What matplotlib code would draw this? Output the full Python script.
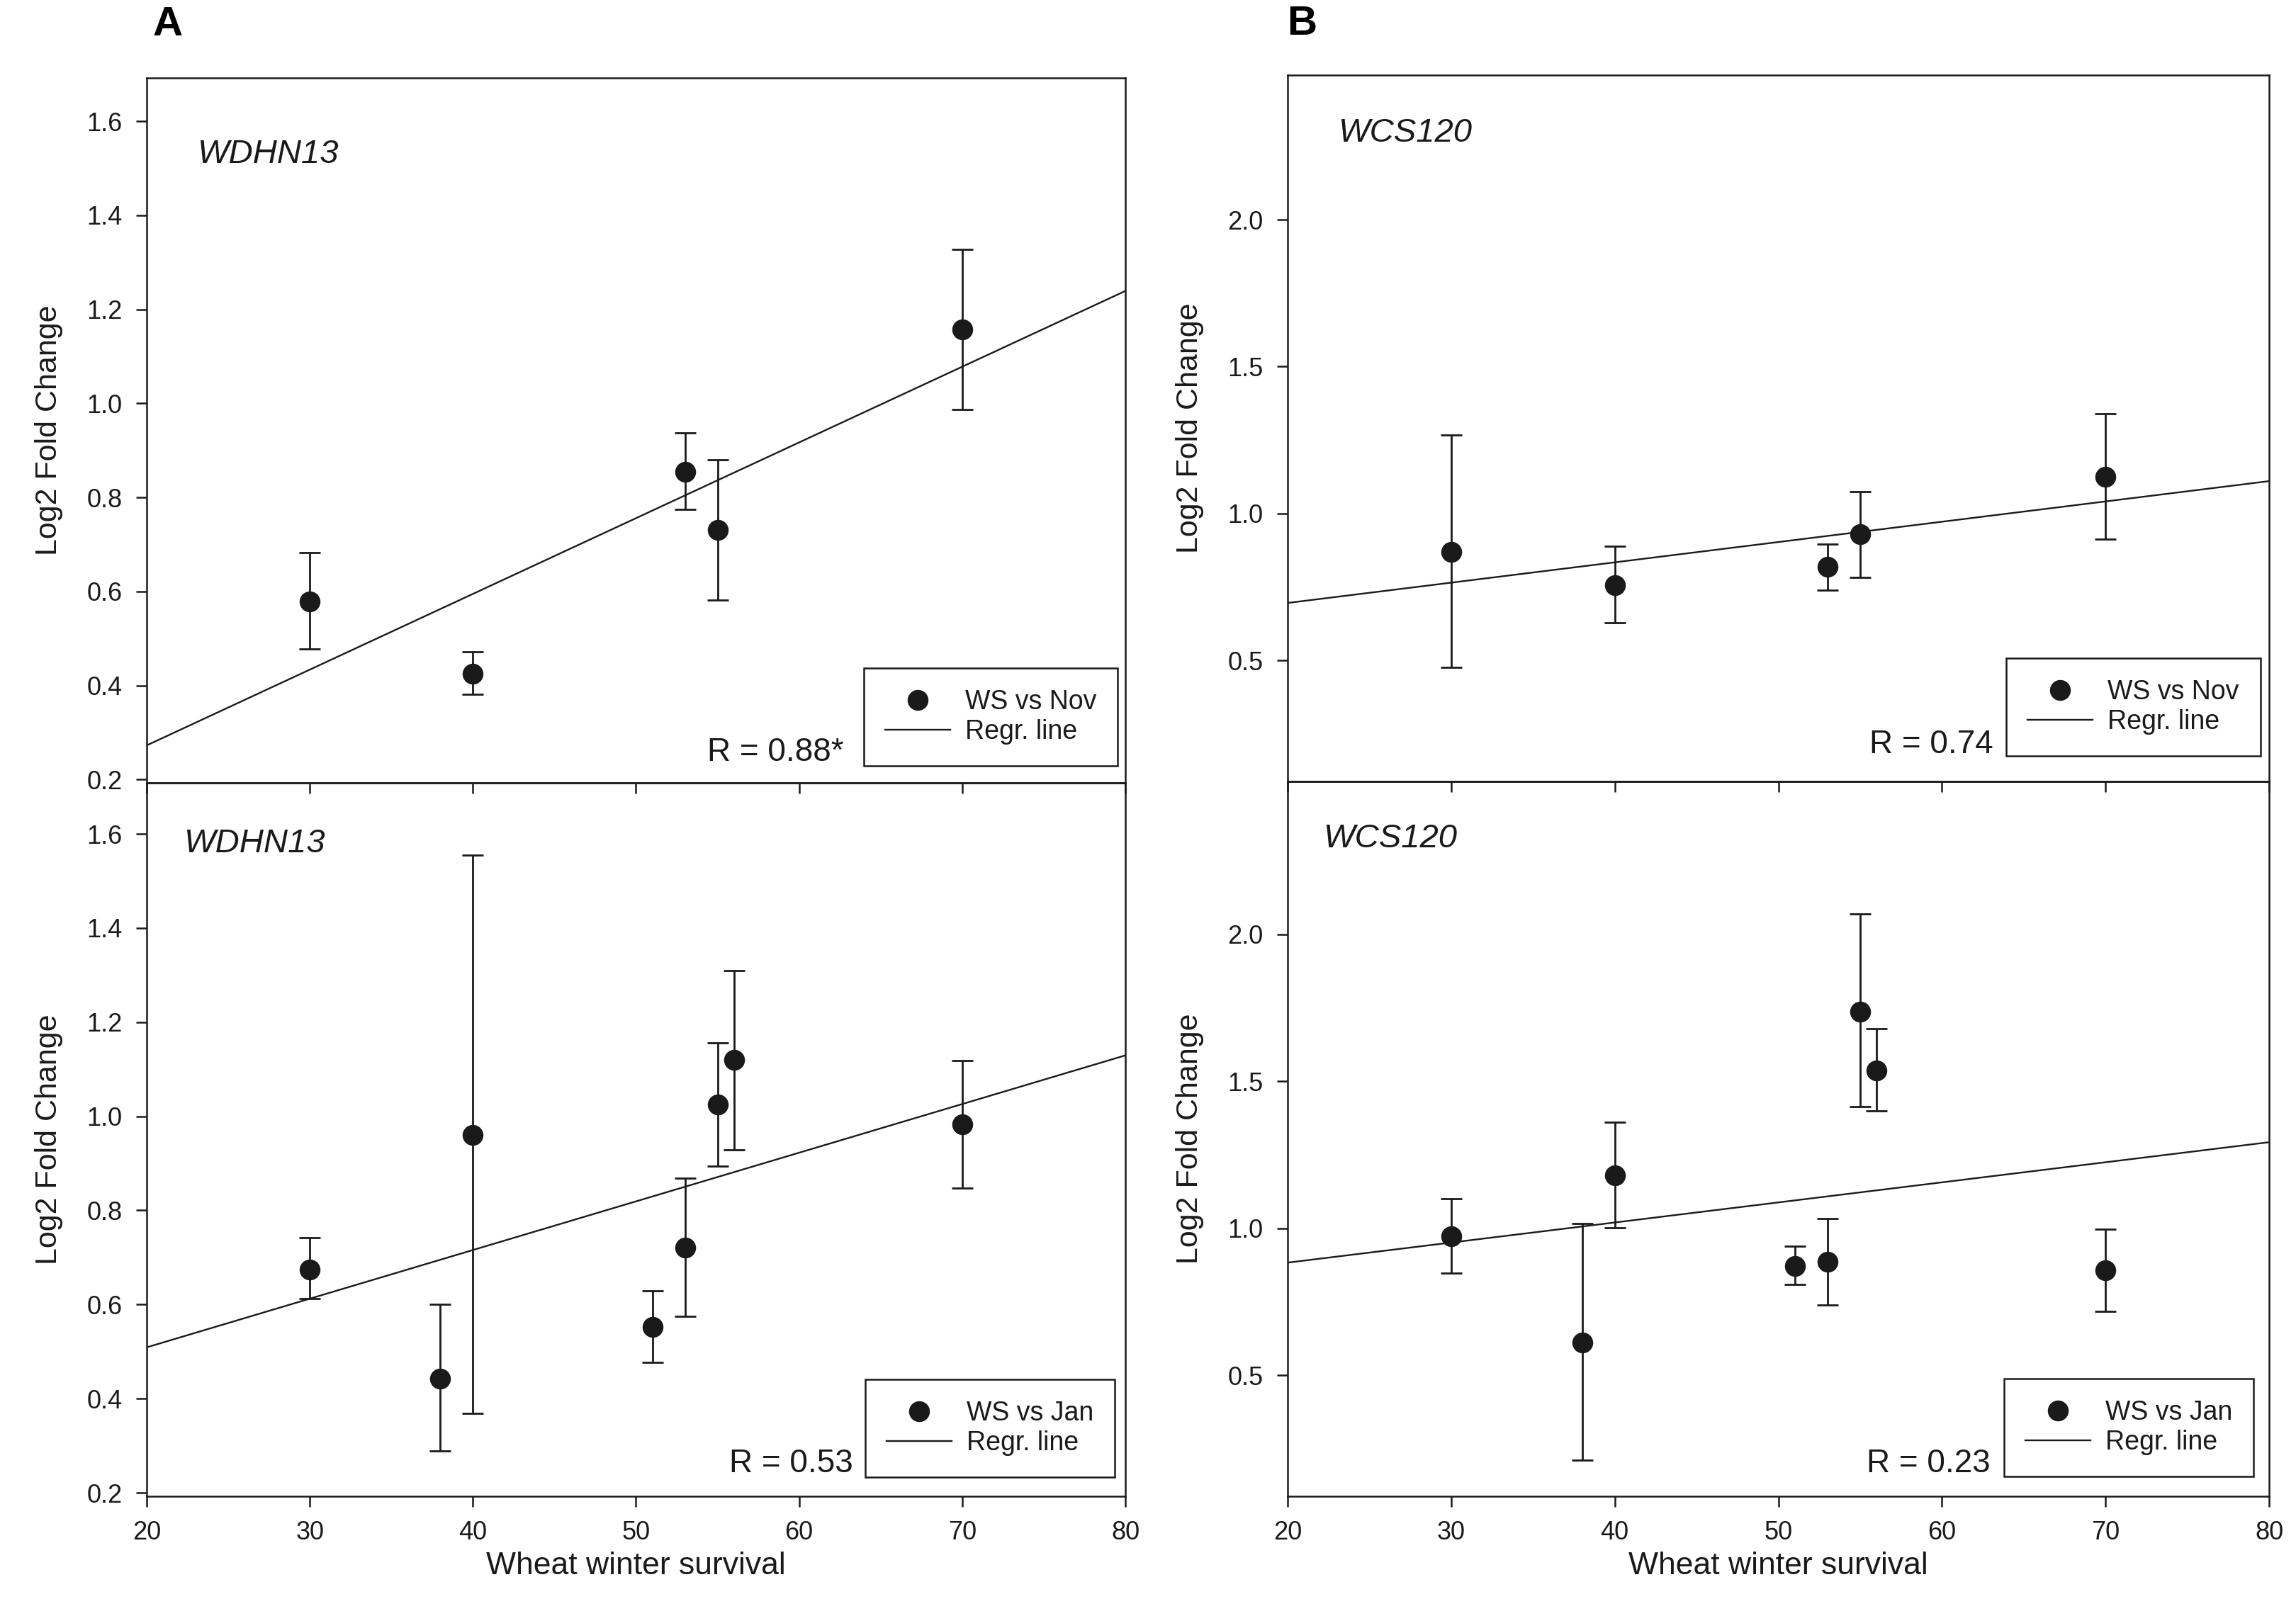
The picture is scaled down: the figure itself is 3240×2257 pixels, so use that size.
import numpy as np
import matplotlib
matplotlib.use("Agg")
import matplotlib.pyplot as plt
from matplotlib.lines import Line2D

plt.rcParams['font.family'] = ['Liberation Sans', 'DejaVu Sans']

# ---------------- data ----------------
# Panel A (WDHN13)
a_nov_x = [30, 40, 53, 55, 70]
a_nov_y = [0.579, 0.425, 0.855, 0.731, 1.157]
a_nov_hi = [0.682, 0.471, 0.937, 0.880, 1.327]
a_nov_lo = [0.478, 0.381, 0.775, 0.582, 0.987]

a_jan_x = [30, 38, 40, 51, 53, 55, 56, 70]
a_jan_y = [0.675, 0.443, 0.961, 0.553, 0.721, 1.025, 1.120, 0.983]
a_jan_hi = [0.742, 0.600, 1.555, 0.629, 0.868, 1.156, 1.310, 1.119]
a_jan_lo = [0.612, 0.289, 0.368, 0.477, 0.575, 0.894, 0.928, 0.847]

# Panel B (WCS120)
b_nov_x = [30, 40, 53, 55, 70]
b_nov_y = [0.870, 0.757, 0.818, 0.929, 1.126]
b_nov_hi = [1.266, 0.889, 0.896, 1.074, 1.339]
b_nov_lo = [0.476, 0.627, 0.740, 0.783, 0.912]

b_jan_x = [30, 38, 40, 51, 53, 55, 56, 70]
b_jan_y = [0.973, 0.613, 1.180, 0.873, 0.886, 1.738, 1.538, 0.858]
b_jan_hi = [1.102, 1.016, 1.360, 0.940, 1.033, 2.069, 1.679, 0.998]
b_jan_lo = [0.847, 0.212, 1.001, 0.810, 0.740, 1.415, 1.400, 0.717]

r_labels = ["R = 0.88*", "R = 0.53", "R = 0.74", "R = 0.23"]
gene_labels = ["WDHN13", "WDHN13", "WCS120", "WCS120"]
series_labels = ["WS vs Nov", "WS vs Jan", "WS vs Nov", "WS vs Jan"]
a_yticks = [0.2, 0.4, 0.6, 0.8, 1.0, 1.2, 1.4, 1.6]
b_yticks = [0.5, 1.0, 1.5, 2.0]
x_ticks = [20, 30, 40, 50, 60, 70, 80]

# ---------------- figure ----------------
W, H = 3241, 2257
dpi = 200
fig = plt.figure(figsize=(W / dpi, H / dpi), dpi=dpi)

def fx(px):
    return px / W

def fy(py):
    return 1 - py / H

# axes rectangles in pixel coordinates (left, right, top, bottom)
rects = {
    'A_top': (207, 1588, 110, 1105),
    'A_bot': (207, 1588, 1105, 2112),
    'B_top': (1817, 3202, 106, 1103),
    'B_bot': (1817, 3202, 1103, 2112),
}

def make_ax(key):
    l, r, t, b = rects[key]
    ax = fig.add_axes([fx(l), fy(b), (r - l) / W, (b - t) / H])
    ax.set_facecolor('none')
    return ax

panels = [
    ('A_top', a_nov_x, a_nov_y, a_nov_lo, a_nov_hi, (0.193, 1.692), a_yticks, 0, True,
     (0.052, 0.879), (0.712, 0.031), (0.992, 0.024)),
    ('A_bot', a_jan_x, a_jan_y, a_jan_lo, a_jan_hi, (0.1925, 1.7085), a_yticks, 1, False,
     (0.038, 0.903), (0.722, 0.034), (0.989, 0.027)),
    ('B_top', b_nov_x, b_nov_y, b_nov_lo, b_nov_hi, (0.088, 2.492), b_yticks, 2, True,
     (0.052, 0.906), (0.719, 0.040), (0.991, 0.036)),
    ('B_bot', b_jan_x, b_jan_y, b_jan_lo, b_jan_hi, (0.089, 2.52), b_yticks, 3, False,
     (0.037, 0.908), (0.716, 0.034), (0.984, 0.028)),
]

lw = 0.9
for (key, xs, ys, lo, hi, ylim, yticks, idx, is_top, gene_pos, r_pos, leg_pos) in panels:
    ax = make_ax(key)
    xs = np.array(xs, float)
    ys = np.array(ys, float)
    lo = np.array(lo, float)
    hi = np.array(hi, float)
    yerr = np.vstack([ys - lo, hi - ys])
    ax.errorbar(xs, ys, yerr=yerr, fmt='none', ecolor='#1a1a1a',
                elinewidth=1.0, capsize=5.4, capthick=1.0, zorder=2)
    # regression line
    slope, intercept = np.polyfit(xs, ys, 1)
    xr = np.array([20, 80], float)
    ax.plot(xr, slope * xr + intercept, color='#1a1a1a', lw=0.85, zorder=3)
    ax.plot(xs, ys, 'o', color='#1a1a1a', ms=9.6, mec='#1a1a1a', zorder=4)

    ax.set_xlim(20, 80)
    ax.set_ylim(*ylim)
    ax.set_xticks(x_ticks)
    ax.set_yticks(yticks)
    ax.set_yticklabels([f"{v:.1f}" for v in yticks])
    ax.tick_params(direction='out', length=5.4, width=lw, labelsize=13, pad=7,
                   color='#1a1a1a', labelcolor='#1a1a1a')
    for s in ax.spines.values():
        s.set_linewidth(lw)
        s.set_color('#1a1a1a')
    if is_top:
        ax.tick_params(axis='x', labelbottom=False)
    else:
        ax.set_xlabel("Wheat winter survival", fontsize=16, labelpad=3, color='#1a1a1a')
    ax.set_ylabel("Log2 Fold Change", fontsize=15.5, labelpad=12, color='#1a1a1a')

    ax.text(gene_pos[0], gene_pos[1], gene_labels[idx], transform=ax.transAxes,
            fontsize=17, style='italic', ha='left', va='baseline', color='#1a1a1a')
    ax.text(r_pos[0], r_pos[1], r_labels[idx], transform=ax.transAxes,
            fontsize=16.5, ha='right', va='baseline', color='#1a1a1a')

    handles = [
        Line2D([], [], marker='o', ls='none', color='#1a1a1a', ms=9.6),
        Line2D([], [], color='#1a1a1a', lw=0.85),
    ]
    leg = ax.legend(handles, [series_labels[idx], "Regr. line"], loc='lower right',
                    bbox_to_anchor=leg_pos, bbox_transform=ax.transAxes,
                    borderaxespad=0, fontsize=13.5, frameon=True, fancybox=False,
                    framealpha=1, edgecolor='#1a1a1a', borderpad=0.8,
                    labelspacing=0.15, handlelength=2.45, handletextpad=0.56,
                    numpoints=1)
    leg.get_frame().set_linewidth(lw)
    for t in leg.get_texts():
        t.set_color('#1a1a1a')

fig.text(fx(216), fy(50), "A", fontsize=21, fontweight='bold', ha='left', va='baseline')
fig.text(fx(1816), fy(49), "B", fontsize=21, fontweight='bold', ha='left', va='baseline')

fig.savefig("out.png", dpi=dpi, facecolor='white')
